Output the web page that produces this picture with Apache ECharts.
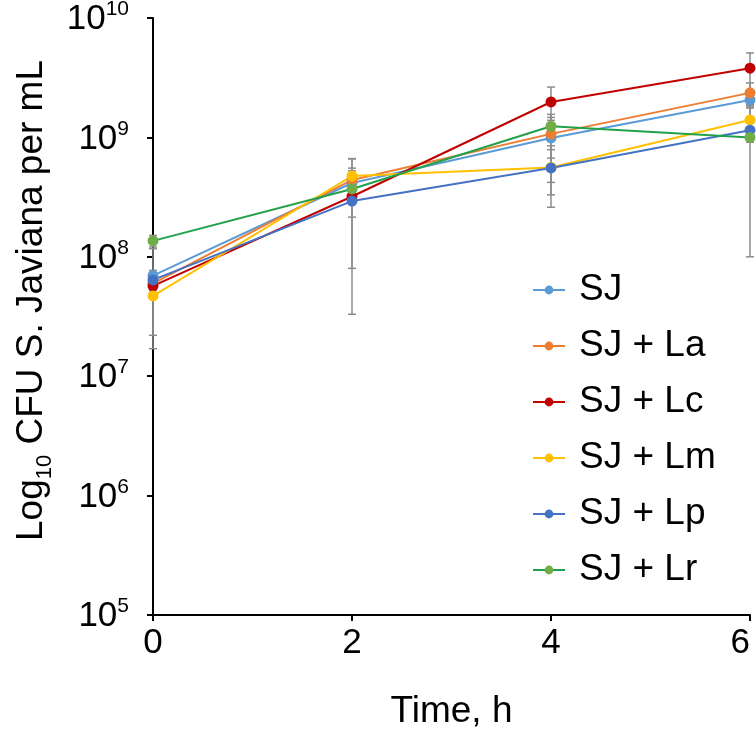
<!DOCTYPE html>
<html><head><meta charset="utf-8">
<script src="https://cdn.jsdelivr.net/npm/echarts@6/dist/echarts.min.js"></script>
<style>html,body{margin:0;padding:0;background:#fff}#c{width:756px;height:732px}</style>
</head><body><div id="c"></div>
<script>
const times = [0, 2, 4, 6];
const seriesNames = ['SJ', 'SJ + La', 'SJ + Lc', 'SJ + Lm', 'SJ + Lp', 'SJ + Lr'];
const SJ   = [6.95e7, 4.15e8, 9.9e8, 2.06e9];
const SJLa = [6.0e7, 4.4e8, 1.07e9, 2.36e9];
const SJLc = [5.7e7, 3.2e8, 1.98e9, 3.8e9];
const SJLm = [4.7e7, 4.75e8, 5.6e8, 1.4e9];
const SJLp = [6.4e7, 2.93e8, 5.55e8, 1.15e9];
const SJLr = [1.36e8, 3.7e8, 1.24e9, 1.0e9];
const sdSJ   = [4.75e7, 0.6e8, 5.7e8, 0.3e9];
const sdSJLa = [1.0e7, 2.25e8, 0.4e9, 0.5e9];
const sdSJLc = [0.5e7, 0.3e8, 0.66e9, 1.3e9];
const sdSJLm = [3.0e7, 0.5e8, 2.3e8, 0.4e9];
const sdSJLp = [1.0e7, 2.6e8, 2.95e8, 0.24e9];
const sdSJLr = [1.5e7, 2.9e8, 0.15e9, 0.9e9];

const means = [SJ, SJLa, SJLc, SJLm, SJLp, SJLr];
const sds = [sdSJ, sdSJLa, sdSJLc, sdSJLm, sdSJLp, sdSJLr];
const lineColors = ['#5B9BD5', '#ED7D31', '#C00000', '#FFC000', '#4472C4', '#22A04B'];
const dotColors  = ['#5B9BD5', '#ED7D31', '#C00000', '#FFC000', '#4472C4', '#70AD47'];

const errData = [];
means.forEach((m, i) => m.forEach((v, j) => {
  errData.push([times[j], Math.max(v - sds[i][j], 1e5), v + sds[i][j]]);
}));

const FONT = 'Liberation Sans, Arial, sans-serif';
const chart = echarts.init(document.getElementById('c'));
const lineSeries = means.map((m, i) => ({
  name: seriesNames[i], type: 'line', data: m.map((v, j) => [times[j], v]),
  symbol: 'circle', symbolSize: 11, z: 3, clip: false,
  lineStyle: { color: lineColors[i], width: 2 },
  itemStyle: { color: dotColors[i] },
  emphasis: { disabled: true }
}));
chart.setOption({
  animation: false,
  grid: { left: 153, right: 6, top: 18, bottom: 117, containLabel: false, outerBoundsMode: 'none' },
  legend: {
    orient: 'vertical', left: 527, top: 265, itemWidth: 32, itemHeight: 11, itemGap: 16,
    data: seriesNames,
    textStyle: { fontFamily: FONT, fontSize: 37, lineHeight: 40, color: '#000', padding: [0, 0, 0, 9] }
  },
  xAxis: {
    type: 'value', min: 0, max: 6, interval: 2,
    name: 'Time, h', nameLocation: 'middle', nameGap: 78,
    nameTextStyle: { fontFamily: FONT, fontSize: 37, color: '#000' },
    axisLine: { lineStyle: { color: '#000', width: 2 } },
    axisTick: { show: true, length: 6, lineStyle: { color: '#000', width: 2 } },
    axisLabel: { fontFamily: FONT, fontSize: 35, color: '#000', margin: 11, alignMaxLabel: 'right' },
    splitLine: { show: false }
  },
  yAxis: {
    type: 'log', logBase: 10, min: 1e5, max: 1e10,
    name: '{a|Log}{s|10}{a| CFU S. Javiana per mL}', nameLocation: 'middle', nameGap: 103, nameRotate: 90,
    nameTextStyle: { padding: [0, 0, 0, 32], rich: {
      a: { fontFamily: FONT, fontSize: 37, color: '#000', lineHeight: 42, verticalAlign: 'bottom' },
      s: { fontFamily: FONT, fontSize: 22, color: '#000', lineHeight: 42, verticalAlign: 'bottom', padding: [0, 0, -6, 0] }
    } },
    axisLine: { show: true, lineStyle: { color: '#000', width: 2 } },
    axisTick: { show: true, length: 6, lineStyle: { color: '#000', width: 2 } },
    minorTick: { show: false },
    splitLine: { show: false },
    axisLabel: {
      margin: 24,
      formatter: v => '{b|10}{p|' + Math.round(Math.log10(v)) + '}',
      rich: {
        b: { fontFamily: FONT, fontSize: 35, color: '#000', lineHeight: 38, verticalAlign: 'bottom' },
        p: { fontFamily: FONT, fontSize: 21, color: '#000', lineHeight: 38, verticalAlign: 'top' }
      }
    }
  },
  series: [{
    type: 'custom', name: 'err', silent: true, z: 2, clip: false,
    data: errData,
    encode: { x: 0, y: [1, 2] },
    renderItem: (params, api) => {
      const x = api.value(0);
      const p1 = api.coord([x, api.value(1)]);
      const p2 = api.coord([x, api.value(2)]);
      const w = 4;
      const st = { stroke: '#8c8c8c', lineWidth: 1.5 };
      return { type: 'group', children: [
        { type: 'line', shape: { x1: p1[0], y1: p1[1], x2: p2[0], y2: p2[1] }, style: st },
        { type: 'line', shape: { x1: p1[0] - w, y1: p1[1], x2: p1[0] + w, y2: p1[1] }, style: st },
        { type: 'line', shape: { x1: p2[0] - w, y1: p2[1], x2: p2[0] + w, y2: p2[1] }, style: st }
      ] };
    }
  }].concat(lineSeries)
});
</script></body></html>
